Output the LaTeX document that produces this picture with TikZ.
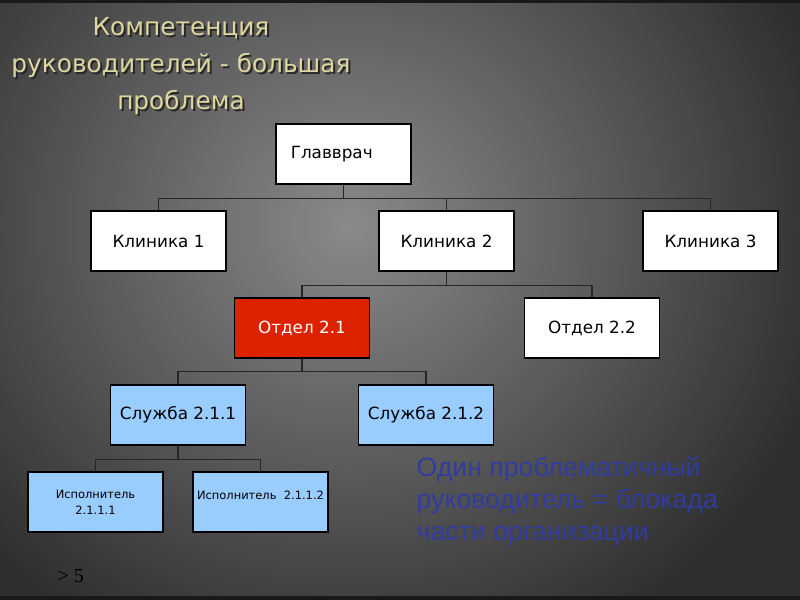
\documentclass[tikz,border=0pt]{standalone}
\usepackage{fontspec}
\setmainfont{DejaVu Sans}
\newfontfamily\arialf{Liberation Sans}
\newfontfamily\timesf{Liberation Serif}
\begin{document}
\begin{tikzpicture}[x=0.75pt,y=-0.75pt,
  bx/.style={draw=black,line width=0.8pt,minimum width=101.25pt,minimum height=45pt,inner sep=0pt,font=\fontsize{12.6}{14}\selectfont},
  wb/.style={bx,fill=white},
  rb/.style={bx,fill={rgb,255:red,220;green,34;blue,0},text=white},
  lb/.style={bx,fill={rgb,255:red,153;green,204;blue,255}},
  sb/.style={lb,font=\fontsize{8.6}{12}\selectfont,align=center},
  ln/.style={draw=black!85,line width=1.1pt}]
\useasboundingbox (0,0) rectangle (800,600);
\fill[black!82] (0,0) rectangle (800,600);
\shade[inner color=black!42,outer color=black!82,opacity=0.9] (-150,-250) rectangle (850,700);
\fill[black!90] (0,0) rectangle (800,3);
\fill[black!90] (0,596) rectangle (800,600);
\node[text=black!85,font=\fontsize{18.6}{28}\selectfont,align=center] at (183,68) {Компетенция\\руководителей - большая\\проблема};
\node (title) [text={rgb,255:red,222;green,214;blue,160},font=\fontsize{18.6}{28}\selectfont,align=center] at (181,66) {Компетенция\\руководителей - большая\\проблема};
\node (g) [wb] at (343.5,154) {\hspace*{-1.4em}Главврач};
\node (k1) [wb] at (158.5,241) {Клиника 1};
\node (k2) [wb] at (446.5,241) {Клиника 2};
\node (k3) [wb] at (710.5,241) {Клиника 3};
\node (o1) [rb] at (302,328) {Отдел 2.1};
\node (o2) [wb] at (592,328) {Отдел 2.2};
\node (s1) [lb] at (178,415) {Служба 2.1.1};
\node (s2) [lb] at (426,415) {Служба 2.1.2};
\node (i1) [sb] at (95.5,502) {Исполнитель\\2.1.1.1};
\node (i2) [sb] at (260.5,502) {\raisebox{1.1em}{Исполнитель\ \ 2.1.1.2}};
\path[ln] (g.south) -- ++(0,14) coordinate (gb);
\path[ln] (k1.north) |- (gb) -| (k3.north);
\path[ln] (k2.north) -- (k2.north|-gb);
\path[ln] (k2.south) -- ++(0,14) coordinate (kb);
\path[ln] (o1.north) |- (kb) -| (o2.north);
\path[ln] (o1.south) -- ++(0,13) coordinate (ob);
\path[ln] (s1.north) |- (ob) -| (s2.north);
\path[ln] (s1.south) -- ++(0,14) coordinate (sb);
\path[ln] (i1.north) |- (sb) -| (i2.north);
\node (txt) [anchor=north west,align=left,text={rgb,255:red,48;green,60;blue,160},font=\arialf\fontsize{20}{24}\selectfont] at (412,452) {Один проблематичный\\руководитель = блокада\\части организации};
\node (gt) [anchor=west,font=\timesf\fontsize{15}{17}\selectfont] at (53,576) {> 5};
\end{tikzpicture}
\end{document}
